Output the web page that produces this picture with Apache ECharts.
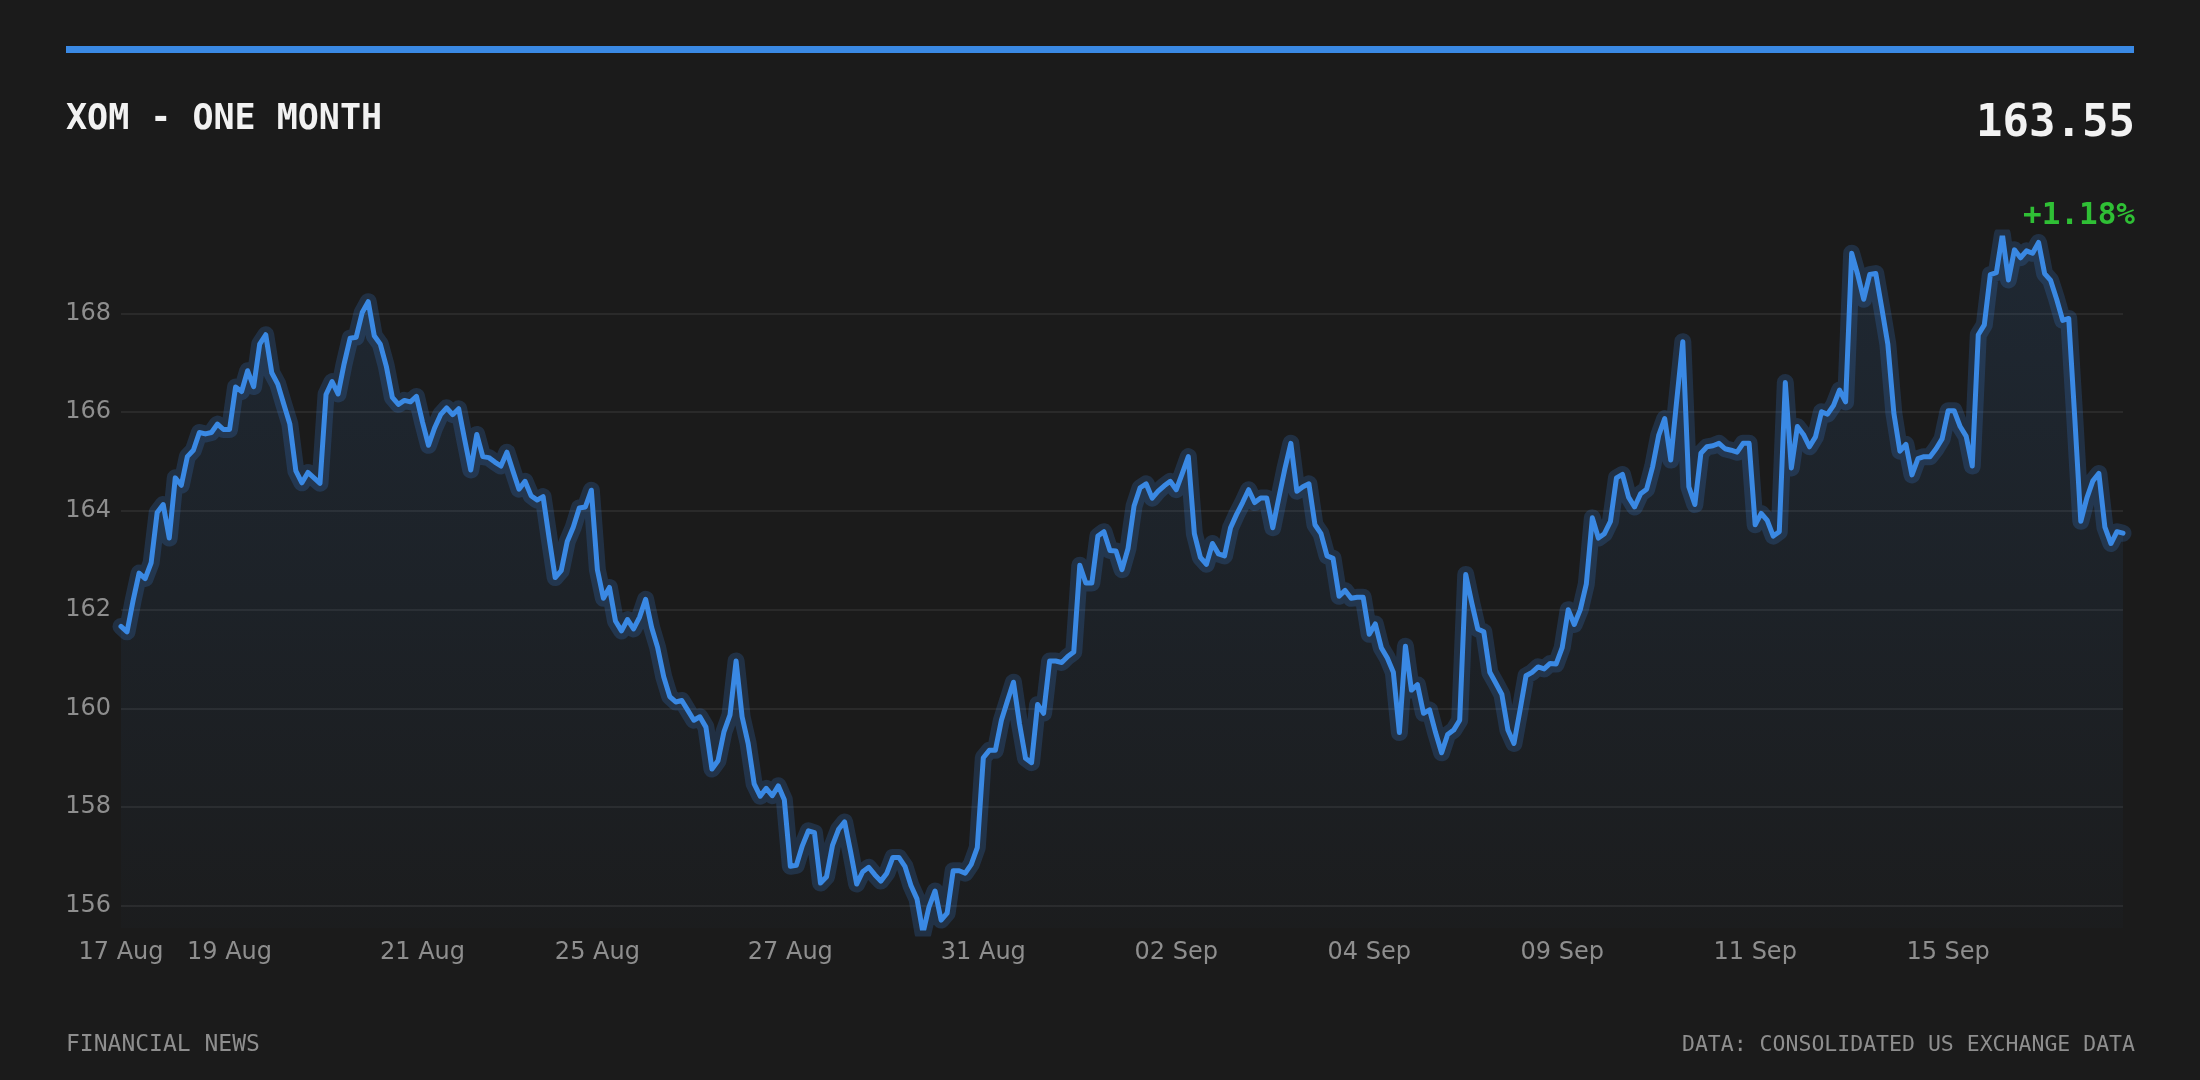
<!DOCTYPE html>
<html lang="en">
<head>
  <meta charset="UTF-8">
  <title>XOM - One Month</title>
  <script src="https://cdn.jsdelivr.net/npm/echarts@6/dist/echarts.min.js"></script>
  <style>
    body {
      margin: 0;
      padding: 0;
      background-color: #1b1b1b;
    }
    #chart {
      width: 2200px;
      height: 1080px;
    }
  </style>
</head>
<body>
  <div id="chart"></div>

  <script>
    // closing prices, one per sample across the month
    var prices = [
      161.66,161.55,162.18,162.74,162.63,162.95,163.97,164.13,163.45,164.67,
      164.52,165.10,165.23,165.59,165.56,165.59,165.76,165.65,165.65,166.51,
      166.42,166.84,166.52,167.38,167.57,166.80,166.57,166.16,165.76,164.81,
      164.57,164.78,164.67,164.56,166.36,166.62,166.37,166.98,167.50,167.52,
      168.02,168.24,167.55,167.38,166.93,166.30,166.16,166.24,166.21,166.32,
      165.80,165.33,165.68,165.95,166.09,165.95,166.07,165.44,164.83,165.55,
      165.10,165.08,164.99,164.91,165.19,164.81,164.44,164.60,164.31,164.22,
      164.29,163.45,162.65,162.79,163.38,163.67,164.06,164.08,164.42,162.81,
      162.23,162.45,161.77,161.57,161.80,161.61,161.85,162.21,161.64,161.23,
      160.64,160.24,160.13,160.16,159.96,159.76,159.83,159.62,158.77,158.94,
      159.53,159.87,160.96,159.83,159.29,158.47,158.22,158.38,158.23,158.43,
      158.15,156.80,156.82,157.22,157.52,157.48,156.46,156.59,157.23,157.55,
      157.70,157.09,156.44,156.69,156.78,156.63,156.50,156.66,156.98,156.98,
      156.80,156.41,156.14,155.45,155.98,156.30,155.71,155.85,156.71,156.71,
      156.66,156.84,157.18,159.00,159.15,159.15,159.76,160.15,160.53,159.69,
      158.99,158.90,160.08,159.90,160.96,160.96,160.93,161.05,161.14,162.90,
      162.54,162.54,163.49,163.58,163.20,163.19,162.81,163.24,164.10,164.47,
      164.55,164.26,164.40,164.51,164.60,164.43,164.76,165.10,163.54,163.06,
      162.92,163.34,163.13,163.09,163.66,163.93,164.17,164.43,164.17,164.26,
      164.26,163.66,164.26,164.85,165.37,164.40,164.49,164.55,163.72,163.54,
      163.09,163.04,162.27,162.39,162.23,162.25,162.25,161.50,161.71,161.23,
      161.02,160.73,159.51,161.26,160.37,160.48,159.90,159.97,159.51,159.10,
      159.47,159.56,159.76,162.71,162.14,161.61,161.55,160.73,160.51,160.28,
      159.56,159.29,159.96,160.66,160.73,160.84,160.80,160.91,160.90,161.23,
      162.00,161.70,162.00,162.52,163.86,163.45,163.54,163.79,164.67,164.74,
      164.28,164.08,164.35,164.44,164.90,165.53,165.87,165.03,166.25,167.43,
      164.49,164.13,165.17,165.30,165.32,165.37,165.26,165.23,165.19,165.37,
      165.37,163.72,163.95,163.81,163.49,163.58,166.60,164.87,165.71,165.55,
      165.30,165.50,166.01,165.96,166.14,166.45,166.21,169.22,168.79,168.29,
      168.79,168.81,168.11,167.38,165.98,165.21,165.35,164.73,165.06,165.10,
      165.10,165.26,165.46,166.03,166.03,165.71,165.51,164.91,167.57,167.77,
      168.79,168.83,169.60,168.68,169.29,169.13,169.27,169.22,169.44,168.81,
      168.67,168.29,167.86,167.90,165.89,163.79,164.26,164.61,164.76,163.67,
      163.34,163.58,163.55
    ];

    // where the date labels sit on the x axis
    var tickLabels = ['17 Aug', '19 Aug', '21 Aug', '25 Aug', '27 Aug', '31 Aug',
                      '02 Sep', '04 Sep', '09 Sep', '11 Sep', '15 Sep'];
    var tickIndex = [0, 18, 50, 79, 111, 143, 175, 207, 239, 271, 303];

    var lastPrice = '163.55';
    var changePct = '+1.18%';

    // category per sample, only the labelled ones carry text
    var categories = prices.map(function(p, i) {
      var k = tickIndex.indexOf(i);
      return k >= 0 ? tickLabels[k] : '';
    });

    var mono = "'DejaVu Sans Mono', monospace";
    var sans = "'DejaVu Sans', sans-serif";
    var blue = '#3a89e4';

    var chart = echarts.init(document.getElementById('chart'));

    chart.setOption({
      backgroundColor: '#1b1b1b',
      animation: false,
      grid: {
        left: 121,
        right: 77,
        top: 238,
        bottom: 152
      },
      xAxis: {
        type: 'category',
        data: categories,
        boundaryGap: false,
        axisLine: { show: false },
        axisTick: { show: false },
        splitLine: { show: false },
        axisLabel: {
          interval: function(index) {
            return tickIndex.indexOf(index) >= 0;
          },
          color: '#8e8e8e',
          fontFamily: sans,
          fontSize: 24,
          margin: 13
        }
      },
      yAxis: {
        type: 'value',
        min: 155.55,
        max: 169.53,
        splitNumber: 7,
        axisLine: { show: false },
        axisTick: { show: false },
        axisLabel: {
          showMinLabel: false,
          showMaxLabel: false,
          color: '#8e8e8e',
          fontFamily: sans,
          fontSize: 24,
          margin: 10
        },
        splitLine: {
          showMinLine: false,
          showMaxLine: false,
          lineStyle: { color: '#313131', width: 1.5 }
        }
      },
      series: [
        {
          // soft glow under the line, carries the area fill
          type: 'line',
          data: prices,
          symbol: 'none',
          silent: true,
          lineStyle: {
            width: 17,
            color: 'rgba(58, 137, 228, 0.2)',
            join: 'round',
            cap: 'round'
          },
          areaStyle: {
            color: new echarts.graphic.LinearGradient(0, 0, 0, 1, [
              { offset: 0, color: 'rgba(58, 137, 228, 0.17)' },
              { offset: 1, color: 'rgba(58, 137, 228, 0.02)' }
            ])
          }
        },
        {
          type: 'line',
          data: prices,
          symbol: 'none',
          lineStyle: {
            width: 5,
            color: blue,
            join: 'round',
            cap: 'round'
          }
        }
      ],
      graphic: [
        {
          type: 'rect',
          shape: { x: 66, y: 46, width: 2068, height: 7 },
          style: { fill: blue }
        },
        {
          type: 'text',
          x: 66,
          y: 120,
          style: {
            text: 'XOM - ONE MONTH',
            font: 'bold 35px ' + mono,
            fill: '#f2f2f2',
            align: 'left',
            verticalAlign: 'middle'
          }
        },
        {
          type: 'text',
          x: 2135,
          y: 125,
          style: {
            text: lastPrice,
            font: 'bold 44px ' + mono,
            fill: '#f2f2f2',
            align: 'right',
            verticalAlign: 'middle'
          }
        },
        {
          type: 'text',
          x: 2135,
          y: 216,
          style: {
            text: changePct,
            font: 'bold 31px ' + mono,
            fill: '#2fbf35',
            align: 'right',
            verticalAlign: 'middle'
          }
        },
        {
          type: 'text',
          x: 66,
          y: 1045,
          style: {
            text: 'FINANCIAL NEWS',
            font: '23px ' + mono,
            fill: '#8e8e8e',
            align: 'left',
            verticalAlign: 'middle'
          }
        },
        {
          type: 'text',
          x: 2135,
          y: 1045,
          style: {
            text: 'DATA: CONSOLIDATED US EXCHANGE DATA',
            font: '21.5px ' + mono,
            fill: '#8e8e8e',
            align: 'right',
            verticalAlign: 'middle'
          }
        }
      ]
    });
  </script>
</body>
</html>
